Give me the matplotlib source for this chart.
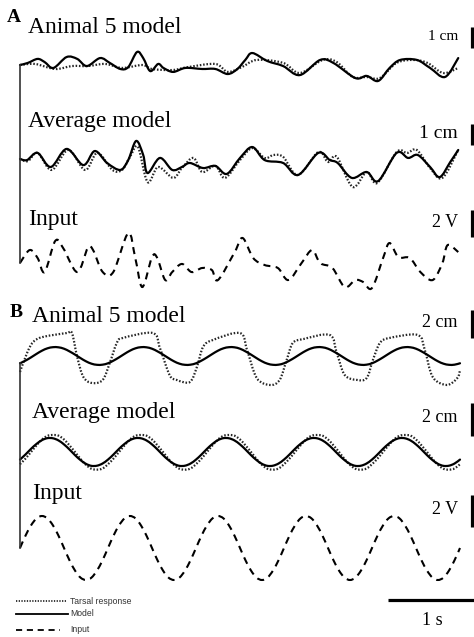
import numpy as np
import matplotlib.pyplot as plt
from matplotlib.path import Path
from matplotlib.patches import PathPatch

# === CONFIG ===
W, H = 474, 637
PX_PER_S = 88.0       # horizontal scale: 1 s of trace = 88 px
X0 = 20               # px where every trace starts
SERIF = "Liberation Serif"
SANS = "Liberation Sans"

# === A: mixed-frequency input (t in s, model / tarsal in cm, input in V) ===
a_animal_t = [0.00, 0.09, 0.20, 0.28, 0.38, 0.53, 0.65, 0.76, 0.91, 1.02, 1.14, 1.23, 1.33,
              1.40, 1.48, 1.57, 1.63, 1.74, 1.88, 2.07, 2.22, 2.36, 2.47, 2.56, 2.64, 2.81,
              2.99, 3.18, 3.41, 3.56, 3.81, 3.94, 4.07, 4.20, 4.32, 4.51, 4.66, 4.83, 4.98]
a_animal_model = [0.00, 0.10, 0.29, 0.14, -0.14, 0.38, 0.29, -0.05, 0.33, 0.10, -0.19, -0.10,
                  0.62, 0.33, -0.29, 0.05, -0.14, -0.33, -0.14, -0.19, -0.19, -0.43, -0.19,
                  0.24, 0.57, 0.19, -0.05, -0.48, 0.24, 0.10, -0.62, -0.52, -0.76, -0.14,
                  0.24, 0.24, -0.14, -0.57, 0.33]
a_animal_tarsal_t = [0.00, 0.17, 0.40, 0.59, 0.77, 0.97, 1.16, 1.39, 1.50, 1.73, 1.91, 2.22,
                     2.36, 2.52, 2.69, 2.99, 3.18, 3.44, 3.60, 3.78, 3.94, 4.09, 4.28, 4.47,
                     4.63, 4.81, 4.98]
a_animal_tarsal = [0.00, 0.05, -0.19, -0.05, -0.05, 0.05, -0.14, 0.00, -0.19, -0.24, -0.10,
                   0.05, -0.33, -0.10, 0.24, 0.10, -0.38, 0.24, 0.14, -0.57, -0.57, -0.62,
                   0.10, 0.24, 0.10, -0.38, -0.14]

a_avg_t = [0.00, 0.08, 0.20, 0.35, 0.53, 0.72, 0.85, 0.99, 1.14, 1.23, 1.32, 1.40, 1.45, 1.59,
           1.73, 1.84, 1.93, 2.08, 2.22, 2.35, 2.50, 2.64, 2.78, 2.99, 3.16, 3.39, 3.52, 3.61,
           3.77, 3.94, 4.07, 4.28, 4.41, 4.52, 4.66, 4.77, 4.89, 4.98]
a_avg_model = [0.00, -0.05, 0.29, -0.38, 0.48, -0.29, 0.38, -0.19, -0.52, -0.05, 0.86, 0.19,
               -0.67, 0.05, -0.52, -0.38, -0.19, -0.43, -0.33, -0.71, 0.05, 0.57, -0.05,
               -0.19, -0.76, 0.29, -0.05, -0.19, -0.90, -0.62, -1.05, 0.29, 0.05, 0.19,
               -0.38, -0.86, -0.14, 0.43]
a_avg_tarsal_t = [0.00, 0.09, 0.20, 0.36, 0.55, 0.74, 0.88, 1.05, 1.16, 1.25, 1.34, 1.45, 1.57,
                  1.74, 1.84, 1.97, 2.07, 2.22, 2.33, 2.50, 2.64, 2.78, 2.88, 2.99, 3.16, 3.39,
                  3.50, 3.60, 3.78, 3.94, 4.06, 4.28, 4.40, 4.51, 4.66, 4.80, 4.98]
a_avg_tarsal = [0.00, -0.10, 0.29, -0.52, 0.43, -0.52, 0.29, -0.52, -0.52, 0.10, 0.57, -1.10,
                -0.38, -0.90, -0.43, 0.05, -0.62, -0.33, -0.90, -0.05, 0.52, 0.05, 0.19, 0.10,
                -0.76, 0.33, -0.14, 0.10, -1.33, -0.62, -1.14, 0.33, 0.29, 0.43, -0.43, -0.90,
                0.43]

a_input_t = [0.00, 0.11, 0.20, 0.28, 0.40, 0.49, 0.65, 0.77, 0.83, 0.94, 1.06, 1.23, 1.31, 1.39,
             1.50, 1.56, 1.65, 1.73, 1.84, 1.95, 2.07, 2.18, 2.25, 2.44, 2.53, 2.65, 2.78, 2.93,
             3.05, 3.20, 3.32, 3.41, 3.55, 3.69, 3.81, 3.90, 4.00, 4.13, 4.20, 4.30, 4.43, 4.55,
             4.69, 4.80, 4.86, 4.98]
a_input_v = [0.00, 0.96, 0.37, -0.67, 1.63, 1.11, -0.67, 1.11, 0.96, -0.67, -0.67, 2.22, 0.37,
             -1.78, 0.44, 0.37, -1.26, -0.67, -0.07, -0.67, -0.37, -0.52, -1.26, 0.81, 1.85,
             0.37, -0.15, -0.37, -1.26, 0.00, 0.96, 0.00, -0.37, -1.78, -1.26, -1.41, -1.85,
             0.44, 1.48, 0.44, 0.37, -0.67, -1.26, 0.00, 1.33, 0.81]

# === B: 1 Hz sine input, sampled every 1/16 s ===
b_t = np.arange(81) * 0.0625
b_input_v = [0.00, 0.77, 1.41, 1.85, 2.00, 1.85, 1.41, 0.77, 0.00, -0.77, -1.41, -1.85, -2.00, -1.85, -1.41, -0.77,
             0.00, 0.77, 1.41, 1.85, 2.00, 1.85, 1.41, 0.77, 0.00, -0.77, -1.41, -1.85, -2.00, -1.85, -1.41, -0.77,
             0.00, 0.77, 1.41, 1.85, 2.00, 1.85, 1.41, 0.77, 0.00, -0.77, -1.41, -1.85, -2.00, -1.85, -1.41, -0.77,
             0.00, 0.77, 1.41, 1.85, 2.00, 1.85, 1.41, 0.77, 0.00, -0.77, -1.41, -1.85, -2.00, -1.85, -1.41, -0.77,
             0.00, 0.77, 1.41, 1.85, 2.00, 1.85, 1.41, 0.77, 0.00, -0.77, -1.41, -1.85, -2.00, -1.85, -1.41, -0.77,
             0.00]
b_animal_model = [-0.52, -0.33, -0.10, 0.15, 0.38, 0.55, 0.63, 0.62, 0.52, 0.33, 0.10, -0.15, -0.38, -0.55, -0.63, -0.62,
                  -0.52, -0.33, -0.10, 0.15, 0.38, 0.55, 0.63, 0.62, 0.52, 0.33, 0.10, -0.15, -0.38, -0.55, -0.63, -0.62,
                  -0.52, -0.33, -0.10, 0.15, 0.38, 0.55, 0.63, 0.62, 0.52, 0.33, 0.10, -0.15, -0.38, -0.55, -0.63, -0.62,
                  -0.52, -0.33, -0.10, 0.15, 0.38, 0.55, 0.63, 0.62, 0.52, 0.33, 0.10, -0.15, -0.38, -0.55, -0.63, -0.62,
                  -0.52, -0.33, -0.10, 0.15, 0.38, 0.55, 0.63, 0.62, 0.52, 0.33, 0.10, -0.15, -0.38, -0.55, -0.63, -0.62,
                  -0.52]
b_animal_tarsal_t = [0.00, 0.08, 0.15, 0.26, 0.53, 0.59, 0.65, 0.72, 0.82, 0.94, 1.02, 1.10, 1.17,
                     1.51, 1.59, 1.70, 1.78, 1.93, 2.01, 2.08, 2.19, 2.50, 2.58, 2.69, 2.84, 2.95,
                     3.03, 3.10, 3.22, 3.52, 3.60, 3.69, 3.83, 3.94, 4.01, 4.09, 4.20, 4.52, 4.60,
                     4.69, 4.85, 4.97, 5.00]
b_animal_tarsal = [-1.14, 0.21, 1.00, 1.36, 1.64, 1.64, -0.07, -1.50, -1.93, -1.71, -0.50, 0.93,
                   1.29, 1.64, 0.57, -1.36, -1.71, -1.86, -0.79, 0.64, 1.14, 1.64, 0.43, -1.57,
                   -2.07, -1.71, -0.29, 0.93, 1.21, 1.50, 0.21, -1.36, -1.71, -1.57, -0.29, 0.93,
                   1.29, 1.50, 0.43, -1.50, -2.07, -1.57, -1.00]
b_avg_model = [-0.46, -0.15, 0.19, 0.49, 0.72, 0.84, 0.83, 0.70, 0.46, 0.15, -0.19, -0.49, -0.72, -0.84, -0.83, -0.70,
               -0.46, -0.15, 0.19, 0.49, 0.72, 0.84, 0.83, 0.70, 0.46, 0.15, -0.19, -0.49, -0.72, -0.84, -0.83, -0.70,
               -0.46, -0.15, 0.19, 0.49, 0.72, 0.84, 0.83, 0.70, 0.46, 0.15, -0.19, -0.49, -0.72, -0.84, -0.83, -0.70,
               -0.46, -0.15, 0.19, 0.49, 0.72, 0.84, 0.83, 0.70, 0.46, 0.15, -0.19, -0.49, -0.72, -0.84, -0.83, -0.70,
               -0.46, -0.15, 0.19, 0.49, 0.72, 0.84, 0.83, 0.70, 0.46, 0.15, -0.19, -0.49, -0.72, -0.84, -0.83, -0.70,
               -0.46]
b_avg_tarsal = [-0.74, -0.40, 0.00, 0.40, 0.76, 0.98, 1.03, 0.99, 0.76, 0.40, 0.00, -0.42, -0.78, -1.02, -1.07, -1.00,
                -0.74, -0.40, 0.00, 0.40, 0.76, 0.98, 1.03, 0.99, 0.76, 0.40, 0.00, -0.42, -0.78, -1.02, -1.07, -1.00,
                -0.74, -0.40, 0.00, 0.40, 0.76, 0.98, 1.03, 0.99, 0.76, 0.40, 0.00, -0.42, -0.78, -1.02, -1.07, -1.00,
                -0.74, -0.40, 0.00, 0.40, 0.76, 0.98, 1.03, 0.99, 0.76, 0.40, 0.00, -0.42, -0.78, -1.02, -1.07, -1.00,
                -0.74, -0.40, 0.00, 0.40, 0.76, 0.98, 1.03, 0.99, 0.76, 0.40, 0.00, -0.42, -0.78, -1.02, -1.07, -1.00,
                -0.74]

# === Layout: (baseline px, px per unit, label, label baseline, scale text, text size, bar top, bar units) ===
rows_a = [
    (65, 21.0, "Animal 5 model", 33, "1 cm", 11, 27, 1),
    (159, 21.0, "Average model", 127, "1 cm", 14, 124, 1),
    (263, 13.5, "Input", 225, "2 V", 13, 210, 2),
]
rows_b = [
    (356, 14.0, "Animal 5 model", 322, "2 cm", 13, 310, 2),
    (452, 16.5, "Average model", 418, "2 cm", 13, 403, 2),
    (548, 16.0, "Input", 499, "2 V", 13, 495, 2),
]

STYLE = {
    "model": dict(edgecolor="black", lw=1.6, capstyle="round", joinstyle="round"),
    "tarsal": dict(edgecolor="#262626", lw=1.6, linestyle=(0, (0.7, 0.8))),
    "input": dict(edgecolor="black", lw=1.5, linestyle=(0, (3.4, 2.6))),
}


def tx(x):
    # pixel column -> seconds
    return (x - X0) / PX_PER_S


def to_px(base, scale, vals):
    return base - scale * np.asarray(vals, dtype=float)


def trace(ax, t, y, key):
    # smooth curve through the read points (Catmull-Rom drawn as cubic Bezier)
    P = np.column_stack([np.asarray(t, float), np.asarray(y, float)])
    verts, codes = [P[0]], [Path.MOVETO]
    n = len(P)
    for i in range(n - 1):
        p0 = P[i - 1] if i > 0 else P[i]
        p3 = P[i + 2] if i + 2 < n else P[i + 1]
        verts += [P[i] + (P[i + 1] - p0) / 6, P[i + 1] - (p3 - P[i]) / 6, P[i + 1]]
        codes += [Path.CURVE4] * 3
    ax.add_patch(PathPatch(Path(verts, codes), fill=False, **STYLE[key]))


fig = plt.figure(figsize=(W / 100, H / 100), dpi=100)
ax = fig.add_axes([0, 0, 1, 1])
ax.set_xlim(tx(0), tx(W))
ax.set_ylim(H, 0)
ax.axis("off")

# --- panel A ---
base, sc = rows_a[0][0], rows_a[0][1]
trace(ax, a_animal_tarsal_t, to_px(base, sc, a_animal_tarsal), "tarsal")
trace(ax, a_animal_t, to_px(base, sc, a_animal_model), "model")
base, sc = rows_a[1][0], rows_a[1][1]
trace(ax, a_avg_tarsal_t, to_px(base, sc, a_avg_tarsal), "tarsal")
trace(ax, a_avg_t, to_px(base, sc, a_avg_model), "model")
base, sc = rows_a[2][0], rows_a[2][1]
trace(ax, a_input_t, to_px(base, sc, a_input_v), "input")
ax.plot([0, 0], [to_px(rows_a[0][0], rows_a[0][1], a_animal_model[0]),
                 to_px(rows_a[2][0], rows_a[2][1], a_input_v[0])], color="#333333", lw=1.2)

# --- panel B ---
base, sc = rows_b[0][0], rows_b[0][1]
trace(ax, b_animal_tarsal_t, to_px(base, sc, b_animal_tarsal), "tarsal")
trace(ax, b_t, to_px(base, sc, b_animal_model), "model")
base, sc = rows_b[1][0], rows_b[1][1]
trace(ax, b_t, to_px(base, sc, b_avg_tarsal), "tarsal")
trace(ax, b_t, to_px(base, sc, b_avg_model), "model")
base, sc = rows_b[2][0], rows_b[2][1]
trace(ax, b_t, to_px(base, sc, b_input_v), "input")
ax.plot([0, 0], [to_px(rows_b[0][0], rows_b[0][1], b_animal_model[0]),
                 to_px(rows_b[2][0], rows_b[2][1], b_input_v[0])], color="#333333", lw=1.2)

# --- labels and vertical scale bars ---
for rows, lx in ((rows_a, 28), (rows_b, 32)):
    for base, sc, label, ly, unit, usize, bar_top, n in rows:
        ax.text(tx(lx), ly, label, family=SERIF, fontsize=17, va="baseline", ha="left")
        ax.text(tx(458), bar_top + n * sc * 0.45, unit, family=SERIF, fontsize=usize,
                va="center", ha="right")
        ax.plot([tx(472), tx(472)], [bar_top, bar_top + n * sc], color="black", lw=2.3,
                solid_capstyle="butt")

ax.text(tx(7), 22, "A", family=SERIF, fontsize=14, fontweight="bold", va="baseline")
ax.text(tx(10), 317, "B", family=SERIF, fontsize=14, fontweight="bold", va="baseline")

# --- time scale bar: 1 s ---
ax.plot([tx(388), tx(388) + 1.0], [600, 600], color="black", lw=2.3, solid_capstyle="butt")
ax.text(tx(388) + 0.5, 625, "1 s", family=SERIF, fontsize=13, ha="center", va="baseline")

# --- legend ---
LEG = {"model": dict(color="black", lw=1.3),
       "tarsal": dict(color="#262626", lw=1.3, dashes=(0.7, 0.8)),
       "input": dict(color="black", lw=1.3, dashes=(3.4, 2.6))}
for y, key, name, x1 in ((601, "tarsal", "Tarsal response", 67),
                         (614, "model", "Model", 68),
                         (630, "input", "Input", 60)):
    ax.plot([tx(16), tx(x1)], [y, y], **LEG[key])
    ax.text(tx(70), y, name, family=SANS, fontsize=6.2, color="#333333", va="center", ha="left")

fig.savefig("out.png", dpi=100)
